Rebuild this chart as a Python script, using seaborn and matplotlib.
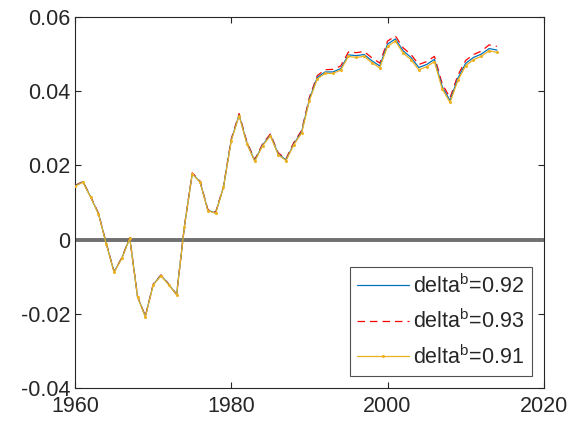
import matplotlib
matplotlib.use("Agg")
import matplotlib.pyplot as plt
import seaborn as sns
import pandas as pd

years = list(range(1960, 2015))

# delta^b = 0.91 (yellow)
d091 = [0.0144, 0.0155, 0.0114, 0.0069, -0.0012, -0.0088, -0.0050, 0.0004, -0.0155, -0.0208,
        -0.0122, -0.0097, -0.0122, -0.0149, 0.0035, 0.0177, 0.0155, 0.0078, 0.0071, 0.0141,
        0.0267, 0.0334, 0.0258, 0.0211, 0.0253, 0.0280, 0.0229, 0.0213, 0.0256, 0.0287,
        0.0375, 0.0433, 0.0448, 0.0448, 0.0457, 0.0494, 0.0491, 0.0494, 0.0477, 0.0463,
        0.0521, 0.0535, 0.0503, 0.0485, 0.0458, 0.0466, 0.0480, 0.0406, 0.0370, 0.0429,
        0.0469, 0.0485, 0.0494, 0.0509, 0.0505]
# delta^b = 0.92 (blue)
d092 = [0.0145, 0.0156, 0.0115, 0.0070, -0.0011, -0.0087, -0.0049, 0.0005, -0.0154, -0.0207,
        -0.0121, -0.0096, -0.0121, -0.0148, 0.0036, 0.0178, 0.0156, 0.0079, 0.0072, 0.0142,
        0.0269, 0.0336, 0.0260, 0.0213, 0.0255, 0.0282, 0.0231, 0.0215, 0.0258, 0.0290,
        0.0379, 0.0437, 0.0452, 0.0452, 0.0461, 0.0498, 0.0496, 0.0499, 0.0482, 0.0468,
        0.0527, 0.0541, 0.0509, 0.0491, 0.0464, 0.0472, 0.0486, 0.0412, 0.0375, 0.0435,
        0.0475, 0.0491, 0.0500, 0.0515, 0.0511]
# delta^b = 0.93 (red, dashed)
d093 = [0.0146, 0.0157, 0.0116, 0.0071, -0.0010, -0.0086, -0.0048, 0.0006, -0.0153, -0.0206,
        -0.0120, -0.0095, -0.0120, -0.0147, 0.0037, 0.0180, 0.0158, 0.0081, 0.0074, 0.0144,
        0.0272, 0.0340, 0.0263, 0.0216, 0.0258, 0.0285, 0.0234, 0.0218, 0.0262, 0.0294,
        0.0384, 0.0442, 0.0458, 0.0459, 0.0468, 0.0506, 0.0504, 0.0507, 0.0490, 0.0476,
        0.0535, 0.0549, 0.0517, 0.0499, 0.0472, 0.0480, 0.0494, 0.0420, 0.0382, 0.0443,
        0.0483, 0.0499, 0.0508, 0.0525, 0.0521]

ytick_labels = ["-0.04", "-0.02", "0", "0.02", "0.04", "0.06"]

df = pd.DataFrame({"year": years, "d092": d092, "d093": d093, "d091": d091})

sns.set_style("ticks")
plt.rcParams["font.family"] = ["Liberation Sans", "DejaVu Sans"]
plt.rcParams["axes.unicode_minus"] = False

fig = plt.figure(figsize=(5.73, 4.26), dpi=100)
ax = fig.add_axes([0.131, 0.089, 0.818, 0.871])

ax.axhline(0, color="#707070", lw=2.8, zorder=1)
sns.lineplot(data=df, x="year", y="d092", ax=ax, color="#0072BD", lw=0.9,
             label="delta$^{\\mathregular{b}}$=0.92", zorder=3)
sns.lineplot(data=df, x="year", y="d093", ax=ax, color="#FF0000", lw=0.9,
             dashes=(6, 4), label="delta$^{\\mathregular{b}}$=0.93", zorder=2)
sns.lineplot(data=df, x="year", y="d091", ax=ax, color="#EDB120", lw=0.9,
             marker="o", markersize=2.2, markeredgewidth=0,
             label="delta$^{\\mathregular{b}}$=0.91", zorder=4)

ax.set_xlim(1960, 2020)
ax.set_ylim(-0.04, 0.06)
ax.set_xticks([1960, 1980, 2000, 2020])
ax.set_yticks([-0.04, -0.02, 0, 0.02, 0.04, 0.06])
ax.set_yticklabels(ytick_labels)
ax.set_xlabel("")
ax.set_ylabel("")
ax.tick_params(direction="in", top=True, right=True, labelsize=15.5, length=4,
               color="#262626", labelcolor="#262626", width=0.8)
ax.tick_params(axis="x", pad=6)
for s in ax.spines.values():
    s.set_color("#262626")
    s.set_linewidth(0.8)

leg = ax.legend(loc="lower right", fontsize=15.5, frameon=True, fancybox=False,
                edgecolor="#262626", handlelength=2.4, borderpad=0.35,
                labelspacing=0.55, handletextpad=0.2, borderaxespad=0.55)
leg.get_frame().set_linewidth(0.8)

fig.savefig("out.png", dpi=100)
